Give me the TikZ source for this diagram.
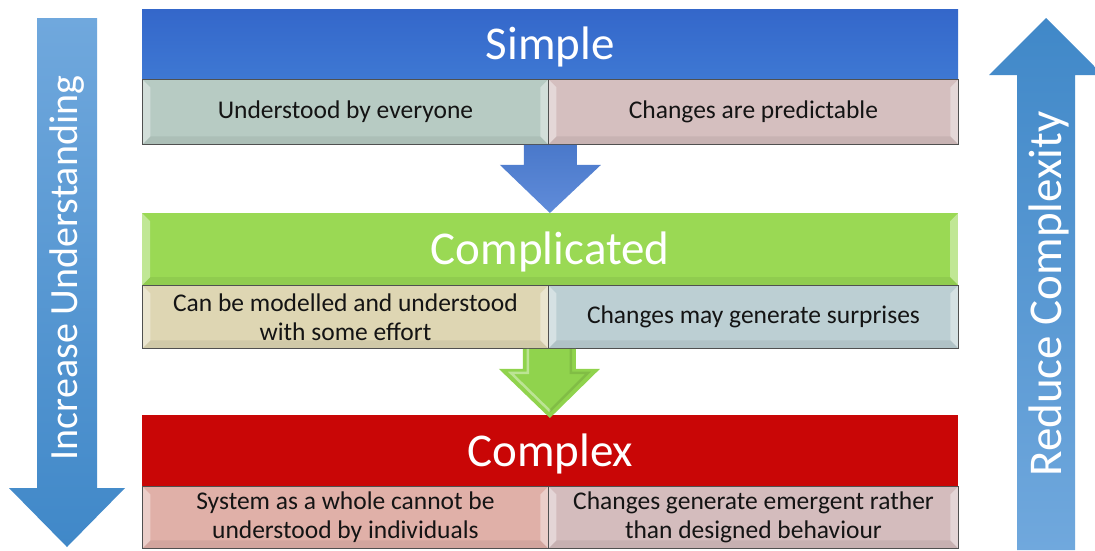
\documentclass[tikz,border=0pt]{standalone}
\usepackage{fontspec}
\setmainfont{Carlito}
\usetikzlibrary{calc}
\definecolor{simpleTop}{HTML}{3467CA}
\definecolor{simpleBot}{HTML}{3E78D3}
\definecolor{sL}{HTML}{B7CBC3}
\definecolor{sR}{HTML}{D5BFBF}
\definecolor{compl}{HTML}{9AD954}
\definecolor{cL}{HTML}{DED6B3}
\definecolor{cR}{HTML}{BCCFD3}
\definecolor{cplx}{HTML}{C90606}
\definecolor{xL}{HTML}{E0B0A8}
\definecolor{xR}{HTML}{D4BCBD}
\definecolor{arrBlue}{HTML}{4E7FD5}
\definecolor{arrGreen}{HTML}{90D34D}
\definecolor{sideLight}{HTML}{70A8DD}
\definecolor{sideDark}{HTML}{4088C8}
\definecolor{boxLine}{HTML}{505050}
\tikzset{
  header/.style={anchor=north west, inner sep=0pt, minimum width=816pt,
    text=white, font=\fontsize{47}{50}\selectfont},
  htext/.style={yshift=-3pt},
  subbox/.style={anchor=north west, inner sep=0pt, draw=boxLine, line width=0.9pt,
    text=black!92, align=center, font=\fontsize{25.5}{29}\selectfont, bevel},
  bevel/.style={path picture={
    \fill[white,opacity=0.38] (path picture bounding box.north west) -- ++(8pt,-8pt)
      -- ($(path picture bounding box.south west)+(8pt,8pt)$)
      -- (path picture bounding box.south west) -- cycle;
    \fill[white,opacity=0.38] (path picture bounding box.north east) -- ++(-8pt,-8pt)
      -- ($(path picture bounding box.south east)+(-8pt,8pt)$)
      -- (path picture bounding box.south east) -- cycle;
    \fill[black,opacity=0.06] (path picture bounding box.south west) -- ++(8pt,8pt)
      -- ($(path picture bounding box.south east)+(-8pt,8pt)$)
      -- (path picture bounding box.south east) -- cycle;
  }},
  sidetext/.style={rotate=90, text=white, font=\fontsize{40}{44}\selectfont}
}
\begin{document}
\begin{tikzpicture}[x=1pt,y=-1pt]
\useasboundingbox (0,0) rectangle (1095,550);
\fill[white] (0,0) rectangle (1095,550);

% side arrows
\shade[top color=sideLight, bottom color=sideDark]
  (37,18) -- (97,18) -- (97,488) -- (125,488) -- (67,547) -- (9,488) -- (37,488) -- cycle;
\node[sidetext] (incr) at (67,268) {Increase Understanding};
\shade[top color=sideDark, bottom color=sideLight]
  (1017,550) -- (1017,75) -- (989,75) -- (1046,18) -- (1103,75) -- (1075,75) -- (1075,550) -- cycle;
\node[sidetext, font=\fontsize{47}{50}\selectfont] (redu) at (1049,294) {Reduce Complexity};

% Simple
\node[header, minimum height=70pt, top color=simpleTop, bottom color=simpleBot] (sH) at (142,9) {};
\node[text=white, font=\fontsize{47}{50}\selectfont, htext] (sT) at (sH) {Simple};
\node[subbox, fill=sL, minimum width=406pt, minimum height=65pt] (sLb) at (142,79) {Understood by everyone};
\node[subbox, fill=sR, minimum width=410pt, minimum height=65pt] (sRb) at (548,79) {Changes are predictable};

% Complicated
\node[header, minimum height=72pt, fill=compl, bevel] (cH) at (142,213) {};
\node[text=white, font=\fontsize{47}{50}\selectfont, htext] (cT) at (cH) {Complicated};
\node[subbox, fill=cL, minimum width=406pt, minimum height=63pt] (cLb) at (142,285) {Can be modelled and understood\\with some effort};
\node[subbox, fill=cR, minimum width=410pt, minimum height=63pt] (cRb) at (548,285) {Changes may generate surprises};

% Complex
\node[header, minimum height=71pt, fill=cplx] (xH) at (142,415) {};
\node[text=white, font=\fontsize{47}{50}\selectfont, htext] (xT) at (xH) {Complex};
\node[subbox, fill=xL, minimum width=406pt, minimum height=62pt] (xLb) at (142,486) {System as a whole cannot be\\understood by individuals};
\node[subbox, fill=xR, minimum width=410pt, minimum height=62pt] (xRb) at (548,486) {Changes generate emergent rather\\than designed behaviour};

% blue block arrow Simple -> Complicated
\coordinate (b0) at (sLb.south east);
\coordinate (b1) at (cH.north -| sLb.south east);
\shade[top color=arrBlue!95!black, bottom color=arrBlue!90!white]
  ($(b0)+(-25,0)$) -- ($(b0)+(28,0)$) -- ($(b0)+(28,20)$) -- ($(b0)+(52,20)$)
  -- ($(b1)+(1,0)$) -- ($(b0)+(-49,20)$) -- ($(b0)+(-25,20)$) -- cycle;

% green block arrow Complicated -> Complex
\coordinate (g0) at (cLb.south east);
\coordinate (g1) at (xH.north -| cLb.south east);
\fill[arrGreen]
  ($(g0)+(-26,0)$) -- ($(g0)+(27,0)$) -- ($(g0)+(27,20)$) -- ($(g0)+(51,20)$)
  -- ($(g1)+(1,3)$) -- ($(g0)+(-50,20)$) -- ($(g0)+(-26,20)$) -- cycle;
\draw[white, opacity=0.4, line width=2.5pt]
  ($(g0)+(-21,0)$) -- ($(g0)+(-21,24)$) -- ($(g0)+(-38,24)$) -- ($(g1)+(1,-4)$);
\draw[black, opacity=0.1, line width=2.5pt]
  ($(g0)+(22,0)$) -- ($(g0)+(22,24)$) -- ($(g0)+(39,24)$) -- ($(g1)+(1,-4)$);
\end{tikzpicture}
\end{document}
